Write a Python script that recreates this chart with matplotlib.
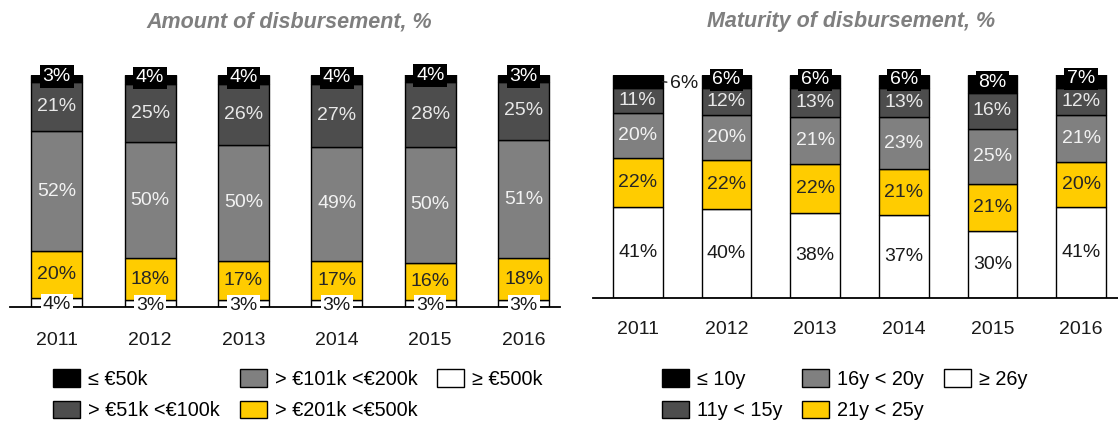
import matplotlib.pyplot as plt

plt.rcParams['font.family'] = ['Liberation Sans', 'DejaVu Sans']

years = ["2011", "2012", "2013", "2014", "2015", "2016"]

# amount of disbursement, % (stack order bottom -> top)
amt_500k = [4, 3, 3, 3, 3, 3]
amt_201_500 = [20, 18, 17, 17, 16, 18]
amt_101_200 = [52, 50, 50, 49, 50, 51]
amt_51_100 = [21, 25, 26, 27, 28, 25]
amt_50k = [3, 4, 4, 4, 4, 3]
amt_labels = ["≥ €500k", "> €201k <€500k", "> €101k <€200k", "> €51k <€100k", "≤ €50k"]

# maturity of disbursement, %
mat_26 = [41, 40, 38, 37, 30, 41]
mat_21_25 = [22, 22, 22, 21, 21, 20]
mat_16_20 = [20, 20, 21, 23, 25, 21]
mat_11_15 = [11, 12, 13, 13, 16, 12]
mat_10 = [6, 6, 6, 6, 8, 7]
mat_labels = ["≥ 26y", "21y < 25y", "16y < 20y", "11y < 15y", "≤ 10y"]

colors = ["#ffffff", "#ffcc00", "#808080", "#4d4d4d", "#000000"]
text_colors = ["#1a1a1a", "#262626", "#f2f2f2", "#e8e8e8", "#ffffff"]

W, H = 1118, 423
fig = plt.figure(figsize=(W / 100, H / 100), dpi=100)
FS = 14


def draw(ax, series, labels, width, pad, white_box, outside_first_top):
    x = list(range(len(years)))
    bottom = [0] * len(years)
    handles = []
    for k, vals in enumerate(series):
        bars = ax.bar(x, vals, width, bottom=bottom, color=colors[k],
                      edgecolor="black", linewidth=1.0, label=labels[k], zorder=2)
        handles.append(bars)
        for i, v in enumerate(vals):
            yc = bottom[i] + v / 2
            if k == 0 and white_box:
                ax.text(x[i], yc - 0.8, f"{v}%", ha="center", va="center", fontsize=FS,
                        color="#1a1a1a", zorder=5,
                        bbox=dict(boxstyle="square,pad=0.1", fc="white", ec="none"))
            elif k == len(series) - 1:
                if outside_first_top and i == 0:
                    ax.annotate(f"{v}%", xy=(x[i] + width / 2, yc),
                                xytext=(x[i] + width / 2 + 0.08, yc - 1),
                                ha="left", va="center", fontsize=FS, color="#1a1a1a",
                                arrowprops=dict(arrowstyle="-", color="#1a1a1a", lw=1,
                                                shrinkA=0, shrinkB=0))
                else:
                    ax.text(x[i], yc + 0.8, f"{v}%", ha="center", va="center", fontsize=FS,
                            color="white", zorder=5,
                            bbox=dict(boxstyle="square,pad=0.14", fc="black", ec="none"))
            else:
                ax.text(x[i], yc, f"{v}%", ha="center", va="center", fontsize=FS,
                        color=text_colors[k], zorder=5)
        bottom = [b + v for b, v in zip(bottom, vals)]
    ax.set_ylim(0, 100)
    ax.set_xticks(x)
    ax.set_xticklabels(years, fontsize=FS, color="#1a1a1a")
    ax.tick_params(axis="x", length=0, pad=pad)
    ax.set_yticks([])
    for s in ["top", "left", "right"]:
        ax.spines[s].set_visible(False)
    ax.spines["bottom"].set_linewidth(1.3)
    ax.spines["bottom"].set_zorder(3)
    return handles[::-1]


ax1 = fig.add_axes([10 / W, 1 - 307 / H, 550 / W, 232 / H])
h1 = draw(ax1, [amt_500k, amt_201_500, amt_101_200, amt_51_100, amt_50k], amt_labels,
          0.546, 18, True, False)
ax1.set_xlim(-0.5, 5.39)

ax2 = fig.add_axes([593 / W, 1 - 298 / H, 525 / W, 223 / H])
h2 = draw(ax2, [mat_26, mat_21_25, mat_16_20, mat_11_15, mat_10], mat_labels,
          0.56, 16.5, False, True)
ax2.set_xlim(-0.504, 5.415)

fig.text(289 / W, 1 - 22 / H, "Amount of disbursement, %", ha="center", va="center",
         fontsize=15.5, fontweight="bold", fontstyle="italic", color="#7f7f7f")
fig.text(851 / W, 1 - 22 / H, "Maturity of disbursement, %", ha="center", va="center",
         fontsize=15.5, fontweight="bold", fontstyle="italic", color="#7f7f7f")

leg_kw = dict(ncol=3, loc="upper left", frameon=False, fontsize=14.3,
              handlelength=1.36, handleheight=1.0, handletextpad=0.4,
              columnspacing=1.0, labelspacing=0.6, borderpad=0, borderaxespad=0)
fig.legend(h1, [h.get_label() for h in h1], bbox_to_anchor=(53 / W, 1 - 369 / H), **leg_kw)
fig.legend(h2, [h.get_label() for h in h2], bbox_to_anchor=(662 / W, 1 - 369 / H), **leg_kw)

fig.savefig("out.png", dpi=100)
